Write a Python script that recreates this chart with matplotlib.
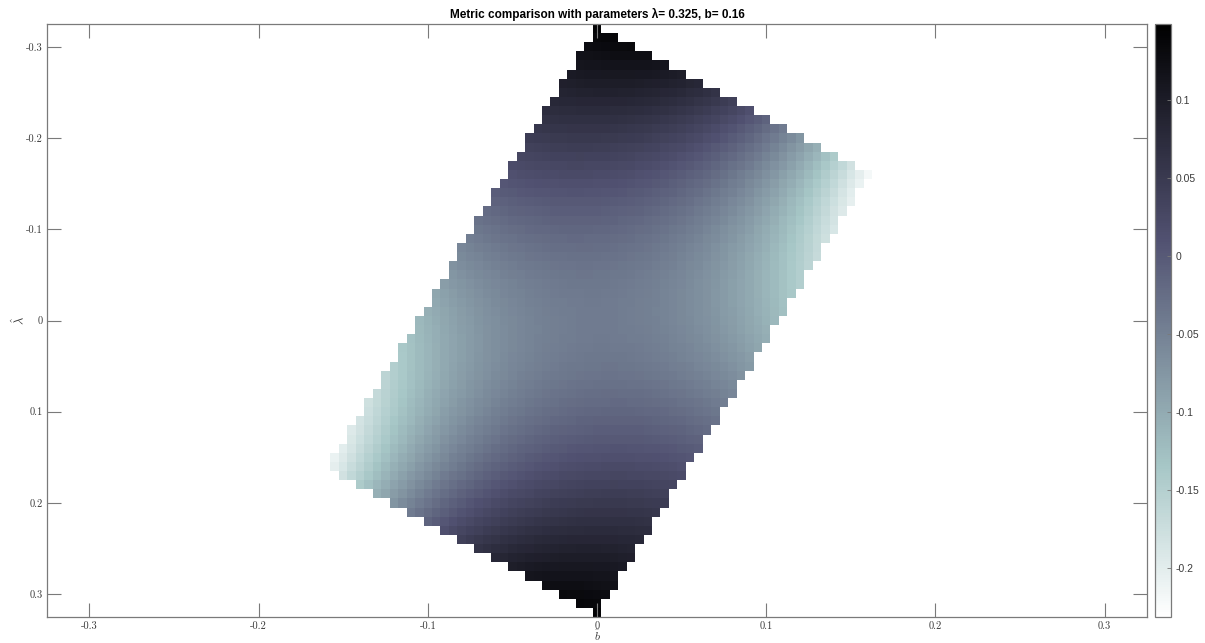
import numpy as np
import matplotlib
matplotlib.use("Agg")
import matplotlib.pyplot as plt
from matplotlib.ticker import FuncFormatter

plt.rcParams["mathtext.fontset"] = "cm"
plt.rcParams["axes.unicode_minus"] = False

# Parameter grid (cell centres)
b_hat = np.round(np.arange(-0.16, 0.16 + 1e-9, 0.005), 4)
lam_hat = np.round(np.arange(-0.32, 0.32 + 1e-9, 0.01), 4)

# Corners of the admissible region (b, lambda): top, right, bottom, left
region_b = [0.0, 0.1625, 0.0, -0.1595]
region_lam = [-0.325, -0.1625, 0.325, 0.1625]

# Metric values sampled across the region: (b, lambda, value)
sample_b = [0.0, 0.1625, 0.0, 0.08125, -0.08125, 0.0406, 0.1219, 0.1463,
            -0.0406, -0.1219, 0.1341, 0.1159, 0.061,
            -0.104, -0.075, -0.04, 0.038, 0.073, 0.105,
            0.0, 0.0, 0.0, 0.0, 0.0]
sample_lam = [-0.32, -0.1625, 0.0, -0.24375, -0.08125, -0.2844, -0.2031, -0.1788,
              -0.2031, 0.0406, -0.077, -0.0225, -0.0225,
              0.0, 0.0, 0.0, 0.0, 0.0, 0.0,
              -0.285, -0.24, -0.19, -0.13, -0.066]
sample_val = [0.149, -0.23, -0.045, 0.05, -0.03, 0.11, -0.075, -0.165,
              0.045, -0.145, -0.155, -0.136, -0.055,
              -0.135, -0.095, -0.06, -0.05, -0.085, -0.135,
              0.11, 0.08, 0.04, 0.01, -0.02]

color_limits = (-0.2314, 0.1487)
cbar_ticks = [-0.2, -0.15, -0.1, -0.05, 0, 0.05, 0.1]
axis_ticks = [-0.3, -0.2, -0.1, 0, 0.1, 0.2, 0.3]
title_text = "Metric comparison with parameters \u03bb= 0.325, b= 0.16"


def inside_convex(px, py, vx, vy, tol=1e-9):
    vx = np.asarray(vx); vy = np.asarray(vy)
    ok = np.ones_like(px, dtype=bool)
    n = len(vx)
    for i in range(n):
        x0, y0 = vx[i], vy[i]
        x1, y1 = vx[(i + 1) % n], vy[(i + 1) % n]
        cross = (x1 - x0) * (py - y0) - (y1 - y0) * (px - x0)
        ok &= cross > tol
    return ok


def region_coords(b, lam):
    # oblique coordinates running along the two pairs of region edges
    s = 0.325
    return (lam - b) / s, (lam + 3 * b) / s


def basis(b, lam):
    u, v = region_coords(np.asarray(b, float), np.asarray(lam, float))
    return np.stack([np.ones_like(u), u ** 2, v ** 2, u * v, u ** 2 * v ** 2,
                     u ** 3 * v, u * v ** 3], axis=-1)


coef, *_ = np.linalg.lstsq(basis(sample_b, sample_lam), np.array(sample_val), rcond=None)

B, L = np.meshgrid(b_hat, lam_hat)
Z = basis(B, L) @ coef
mask = ~inside_convex(B, L, region_b, region_lam)
Z = np.ma.array(Z, mask=mask)

fig = plt.figure(figsize=(12.05, 6.43), dpi=100)
ax = fig.add_axes([47 / 1205, 26 / 643, 1100 / 1205, 593 / 643])
cax = fig.add_axes([1155 / 1205, 26 / 643, 16 / 1205, 593 / 643])

db = b_hat[1] - b_hat[0]
dl = lam_hat[1] - lam_hat[0]
b_edges = np.append(b_hat - db / 2, b_hat[-1] + db / 2)
l_edges = np.append(lam_hat - dl / 2, lam_hat[-1] + dl / 2)
mesh = ax.pcolormesh(b_edges, l_edges, Z, cmap="bone_r",
                     vmin=color_limits[0], vmax=color_limits[1],
                     shading="flat", antialiased=False, linewidth=0)

ax.set_xlim(-0.325, 0.325)
ax.set_ylim(0.325, -0.325)
ax.set_xticks(axis_ticks)
ax.set_yticks(axis_ticks)
fmt = FuncFormatter(lambda v, p: "%g" % round(v, 3))
ax.xaxis.set_major_formatter(fmt)
ax.yaxis.set_major_formatter(fmt)
edge_col = "#7a7a7a"
text_col = "#3a3a3a"
ax.tick_params(direction="in", length=10, width=0.8, color=edge_col,
               labelsize=7.5, labelcolor=text_col, top=True, right=True, pad=3)
for lbl in ax.get_xticklabels() + ax.get_yticklabels():
    lbl.set_family("cmr10")
for s in ax.spines.values():
    s.set_color(edge_col)
    s.set_linewidth(0.9)
ax.set_xlabel(r"$\hat{b}$", fontsize=8.5, color=text_col)
ax.xaxis.set_label_coords(0.5, -0.0205)
ax.set_ylabel(r"$\hat{\lambda}$", fontsize=9, color=text_col, rotation=90)
ax.yaxis.set_label_coords(-0.026, 0.5)
ax.yaxis.label.set_va("center")
ax.set_title(title_text, fontsize=8.5, fontweight="bold", family="Liberation Sans", pad=4)

cb = fig.colorbar(mesh, cax=cax, ticks=cbar_ticks)
cb.ax.yaxis.set_major_formatter(FuncFormatter(lambda v, p: "%g" % round(v, 3)))
cb.ax.tick_params(direction="in", length=3, width=0.6, color=edge_col,
                  labelsize=7.5, labelcolor=text_col)
for lbl in cb.ax.get_yticklabels():
    lbl.set_family("Liberation Sans")
cb.outline.set_edgecolor(edge_col)
cb.outline.set_linewidth(0.9)

fig.savefig("out.png", dpi=100)
